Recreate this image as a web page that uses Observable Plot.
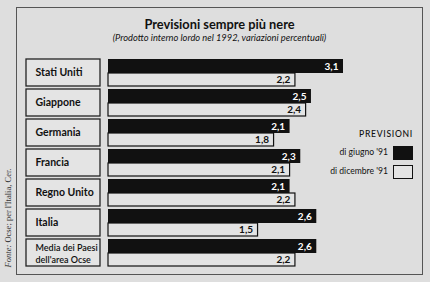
<!DOCTYPE html>
<html><head><meta charset="utf-8">
<script src="https://cdn.jsdelivr.net/npm/d3@7"></script>
<script src="https://cdn.jsdelivr.net/npm/@observablehq/plot@0.6"></script>
<style>
html,body{margin:0;padding:0;background:#dedede;}
#wrap{position:relative;width:430px;height:282px;overflow:hidden;background:#dedede;font-family:Lato,"DejaVu Sans",sans-serif;color:#111;}
#frame{position:absolute;left:16px;top:7px;width:407px;height:268px;border:1px solid #555;box-sizing:border-box;}
#title{position:absolute;left:16px;width:407px;top:16px;text-align:center;font-weight:bold;font-size:12.8px;line-height:16px;}
#subtitle{position:absolute;left:16px;width:407px;top:32px;text-align:center;font-style:italic;font-size:9.3px;line-height:12px;}
#source{position:absolute;left:8px;top:218px;transform:translate(-50%,-50%) rotate(-90deg);white-space:nowrap;font-family:"Liberation Serif","DejaVu Serif",serif;font-size:8.5px;color:#333;}
#chart{position:absolute;left:0;top:0;}
.leg{position:absolute;font-size:8.6px;white-space:nowrap;}
.legt{right:17px;top:129px;font-size:8.6px;letter-spacing:0.7px;font-weight:500;}
.lab{text-align:right;right:42px;}
.sw{position:absolute;width:20px;height:14px;box-sizing:border-box;border:1.2px solid #111;left:393px;}
</style>
</head><body>
<div id="wrap">
  <div id="frame"></div>
  <div id="title">Previsioni sempre più nere</div>
  <div id="subtitle">(Prodotto interno lordo nel 1992, variazioni percentuali)</div>
  <div id="source"><i>Fonte:</i> Ocse; per l'Italia, Cer.</div>
  <div id="chart"></div>
  <div id="legend"></div>
</div>
<script>
const countries = ["Stati Uniti","Giappone","Germania","Francia","Regno Unito","Italia","Media dei Paesi\ndell'area Ocse"];
const giugno   = [3.1, 2.5, 2.1, 2.3, 2.1, 2.6, 2.6];
const dicembre = [2.2, 2.4, 1.8, 2.1, 2.2, 1.5, 2.2];
const legendTitle = "PREVISIONI";
const seriesLabels = ["di giugno '91", "di dicembre '91"];
const seriesColors = ["#111111", "#e4e4e4"];

const rows = countries.map((c, i) => ({country: c, giugno: giugno[i], dicembre: dicembre[i], multi: c.includes("\n")}));
const base = -1.3;
const loc = d3.formatLocale({decimal: ",", thousands: ".", grouping: [3], currency: ["", "€"]});
const fmt = loc.format(".1f");

const chart = Plot.plot({
  width: 430, height: 282, margin: 0,
  style: {background: "transparent", fontFamily: "Lato, 'DejaVu Sans', sans-serif", color: "#111"},
  x: {domain: [base, 3.1], range: [108, 343], axis: null},
  y: {domain: countries, range: [59, 266], paddingInner: 0.1, paddingOuter: 0, round: false, axis: null},
  marks: [
    Plot.barX(rows, {x1: () => base, x2: () => base, y: "country", insetLeft: -82, insetRight: 8, fill: "#e4e4e4", stroke: "#222", strokeWidth: 1.3}),
    Plot.text(rows.filter(d => !d.multi), {x: () => base, y: "country", text: "country", dx: -73, textAnchor: "start", fontWeight: "bold", fontSize: 10.5, fill: "#111"}),
    Plot.text(rows.filter(d => d.multi), {x: () => base, y: "country", text: "country", dx: -73, textAnchor: "start", fontWeight: 600, fontSize: 9, lineHeight: 1.35, fill: "#111"}),
    Plot.barX(rows, {x1: () => base, x2: "giugno", y: "country", insetBottom: 13, fill: seriesColors[0]}),
    Plot.barX(rows, {x1: () => base, x2: "dicembre", y: "country", insetTop: 14, fill: seriesColors[1], stroke: "#111", strokeWidth: 1.2}),
    Plot.text(rows, {x: "giugno", y: "country", text: d => fmt(d.giugno), dx: -5, dy: -6.5, textAnchor: "end", fill: "white", fontWeight: "bold", fontSize: 10}),
    Plot.text(rows, {x: "dicembre", y: "country", text: d => fmt(d.dicembre), dx: -5, dy: 7, textAnchor: "end", fill: "#111", fontWeight: "bold", fontSize: 10})
  ]
});
document.getElementById("chart").appendChild(chart);

const leg = document.getElementById("legend");
const lt = document.createElement("div");
lt.className = "leg legt"; lt.textContent = legendTitle; leg.appendChild(lt);
const tops = [146, 165];
seriesLabels.forEach((s, i) => {
  const l = document.createElement("div");
  l.className = "leg lab"; l.style.top = (tops[i] + 1) + "px"; l.textContent = s; leg.appendChild(l);
  const b = document.createElement("div");
  b.className = "sw"; b.style.top = tops[i] + "px"; b.style.background = seriesColors[i]; leg.appendChild(b);
});
</script>
</body></html>
